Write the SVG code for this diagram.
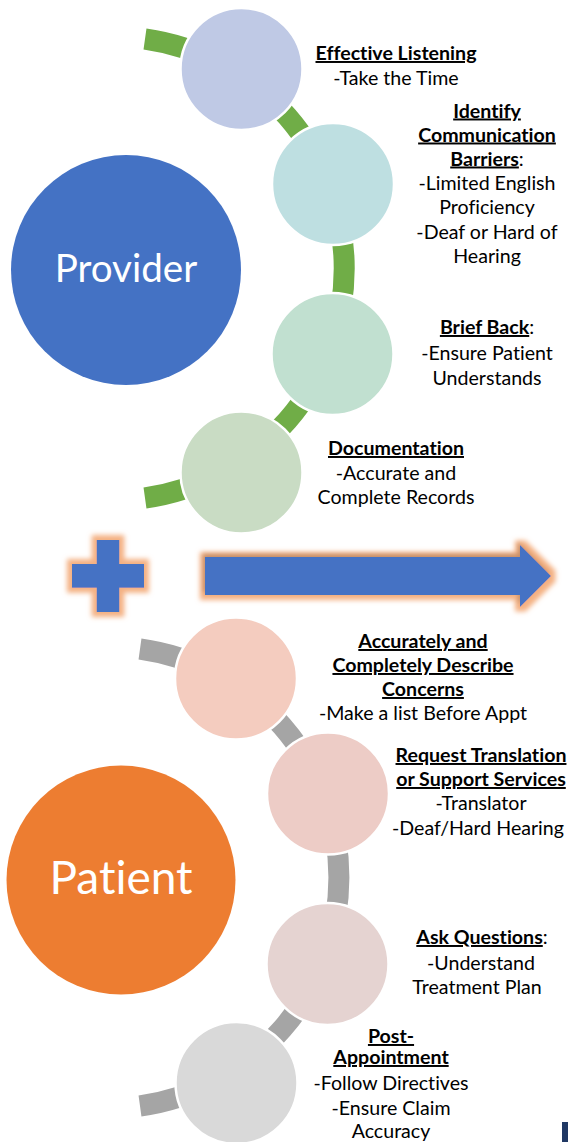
<svg xmlns="http://www.w3.org/2000/svg" width="568" height="1142" viewBox="0 0 568 1142">
<style>
text{font-family:Lato,"Liberation Sans",sans-serif;font-size:19.6px;fill:#000;text-anchor:middle;font-variant-ligatures:none;font-feature-settings:"liga" 0,"dlig" 0}
.b{font-weight:bold}
.u{text-decoration:underline}
.big{fill:#fff}
.node{stroke:#fff;stroke-width:2.5}
.band{fill:none;stroke-width:21;stroke-linecap:butt}
</style>
<defs>
<filter id="glow" x="-30%" y="-40%" width="160%" height="180%">
<feMorphology in="SourceAlpha" operator="dilate" radius="5" result="d"/>
<feGaussianBlur in="d" stdDeviation="2.5" result="b"/>
<feFlood flood-color="#F4B183"/>
<feComposite in2="b" operator="in" result="g"/>
<feMerge><feMergeNode in="g"/><feMergeNode in="SourceGraphic"/></feMerge>
</filter>
<filter id="glow2" x="-10%" y="-60%" width="120%" height="220%">
<feMorphology in="SourceAlpha" operator="dilate" radius="5" result="d"/>
<feGaussianBlur in="d" stdDeviation="2.5" result="b"/>
<feFlood flood-color="#F4B183"/>
<feComposite in2="b" operator="in" result="g"/>
<feOffset in="SourceAlpha" dx="-2" dy="-3" result="o"/>
<feGaussianBlur in="o" stdDeviation="2" result="ob"/>
<feFlood flood-color="#6B4A30" flood-opacity="0.45"/>
<feComposite in2="ob" operator="in" result="s"/>
<feMerge><feMergeNode in="g"/><feMergeNode in="s"/><feMergeNode in="SourceGraphic"/></feMerge>
</filter>
</defs>
<rect width="568" height="1142" fill="#fff"/>
<g id="connectors">
<path class="band" stroke="#70AD47" d="M145,39 A231.8,231.8 0 0 1 145,498"/>
<path class="band" stroke="#A5A5A5" d="M140,649 A230.7,230.7 0 0 1 140,1106"/>
</g>
<g id="provider"><circle cx="126" cy="270" r="115" fill="#4472C4"/><text class="big" x="126" y="282" style="font-size:38.6px">Provider</text></g>
<g id="patient"><circle cx="121" cy="880" r="114.5" fill="#ED7D31"/><text class="big" x="121" y="894" style="font-size:46px">Patient</text></g>
<g id="n1"><circle class="node" cx="241.5" cy="69" r="61" fill="#BFC9E5"/>
<text x="396" y="60"><tspan class="b u">Effective Listening</tspan></text><text x="396" y="85">-Take the Time</text></g>
<g id="n2"><circle class="node" cx="333" cy="184" r="61" fill="#BEDFE1"/>
<text x="487" y="117.5" class="b u">Identify</text><text x="487" y="141.5" class="b u">Communication</text><text x="487" y="165.5"><tspan class="b u">Barriers</tspan>:</text><text x="487" y="190">-Limited English</text><text x="487" y="214">Proficiency</text><text x="487" y="238.5">-Deaf or Hard of</text><text x="487" y="262.5">Hearing</text></g>
<g id="n3"><circle class="node" cx="332.5" cy="354" r="61" fill="#C1E0D0"/>
<text x="487" y="334"><tspan class="b u">Brief Back</tspan>:</text><text x="487" y="360">-Ensure Patient</text><text x="487" y="384.5">Understands</text></g>
<g id="n4"><circle class="node" cx="241.5" cy="472.5" r="61" fill="#C9DCC4"/>
<text x="396" y="455" class="b u">Documentation</text><text x="396" y="480">-Accurate and</text><text x="396" y="504">Complete Records</text></g>
<g id="plus" filter="url(#glow)"><path fill="#4472C4" d="M96.7,540H119.3V564H144V587.7H119.3V612H96.7V587.7H72V564H96.7Z"/></g>
<g id="arrow" filter="url(#glow2)"><polygon fill="#4472C4" points="205,557 520,557 520,545 551,576 520,607 520,595 205,595"/></g>
<g id="n5"><circle class="node" cx="236" cy="678.5" r="61" fill="#F4CCBF"/>
<text x="423" y="648" class="b u">Accurately and</text><text x="423" y="672" class="b u">Completely Describe</text><text x="423" y="696" class="b u">Concerns</text><text x="423" y="720">-Make a list Before Appt</text></g>
<g id="n6"><circle class="node" cx="328" cy="793.5" r="61" fill="#EDCCC6"/>
<text x="481" y="762" class="b u">Request Translation</text><text x="481" y="786" class="b u">or Support Services</text><text x="481" y="810">-Translator</text><text x="478" y="834.5">-Deaf/Hard Hearing</text></g>
<g id="n7"><circle class="node" cx="327.5" cy="964" r="61" fill="#E5D3D1"/>
<text x="482" y="944"><tspan class="b u">Ask Questions</tspan>:</text><text x="481" y="969.5">-Understand</text><text x="477" y="994">Treatment Plan</text></g>
<g id="n8"><circle class="node" cx="236.5" cy="1083" r="61" fill="#D9D9D9"/>
<text x="391" y="1043" class="b u">Post-</text><text x="391" y="1064" class="b u">Appointment</text><text x="391" y="1090">-Follow Directives</text><text x="391" y="1114.5">-Ensure Claim</text><text x="391" y="1138">Accuracy</text></g>
<rect x="562" y="1122" width="6" height="20" fill="#203864"/>
</svg>
